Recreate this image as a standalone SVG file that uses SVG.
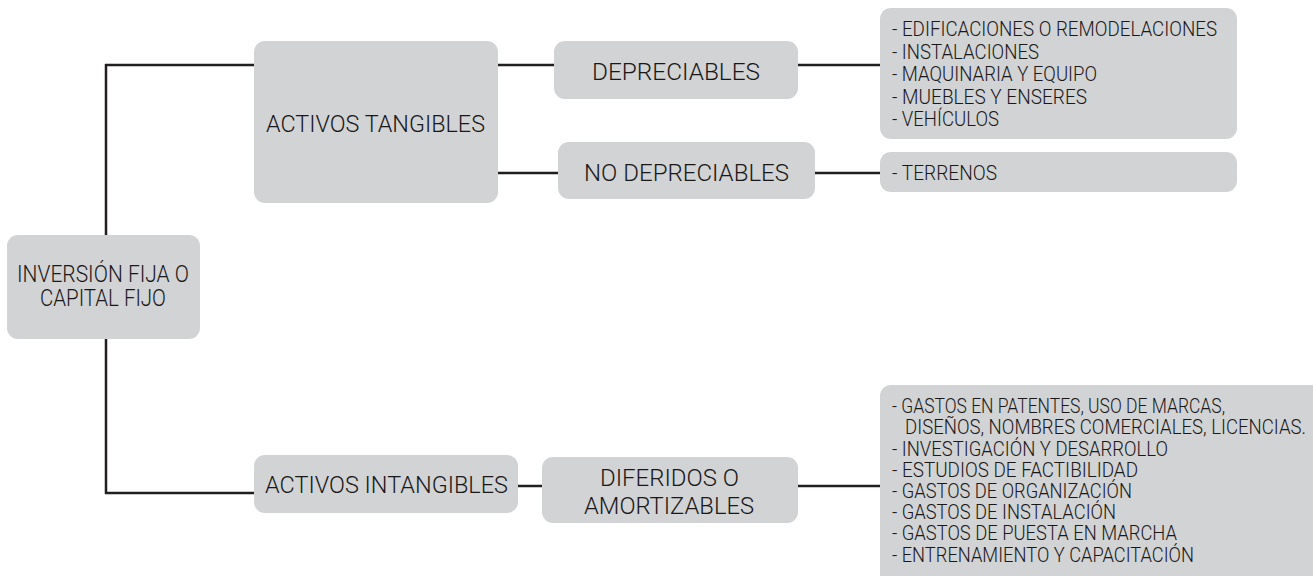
<svg xmlns="http://www.w3.org/2000/svg" width="1313" height="576" viewBox="0 0 1313 576">
  <style>
    .box { fill: #d1d3d4; }
    .link { stroke: #231f20; stroke-width: 2.5; fill: none; }
    .lbl { font-family: Roboto, "Liberation Sans", sans-serif; font-weight: 300; font-size: 23px; fill: #1a1718; text-anchor: middle; }
    .item { font-family: Roboto, "Liberation Sans", sans-serif; font-weight: 300; font-size: 19.5px; fill: #1a1718; }
  </style>
  <rect width="1313" height="576" fill="#ffffff"/>

  <!-- connectors -->
  <g id="connectors">
    <path class="link" d="M106 64 V494"/>
    <path class="link" d="M105 65 H256"/>
    <path class="link" d="M105 493 H256"/>
    <path class="link" d="M496 65 H556"/>
    <path class="link" d="M496 173 H560"/>
    <path class="link" d="M796 65 H882"/>
    <path class="link" d="M813 173 H882"/>
    <path class="link" d="M516 486 H544"/>
    <path class="link" d="M796 486 H882"/>
  </g>

  <!-- root -->
  <g id="inversion-fija">
    <rect class="box" x="7" y="235" width="193" height="104" rx="11"/>
    <text class="lbl" x="103" y="282" textLength="172" lengthAdjust="spacingAndGlyphs">INVERSIÓN FIJA O</text>
    <text class="lbl" x="103" y="306" textLength="126" lengthAdjust="spacingAndGlyphs">CAPITAL FIJO</text>
  </g>

  <!-- tangible assets branch -->
  <g id="activos-tangibles">
    <rect class="box" x="254" y="41" width="244" height="162" rx="11"/>
    <text class="lbl" x="375.5" y="132" textLength="219" lengthAdjust="spacingAndGlyphs">ACTIVOS TANGIBLES</text>
  </g>

  <g id="depreciables">
    <rect class="box" x="554" y="41" width="244" height="58" rx="11"/>
    <text class="lbl" x="676" y="80" textLength="168" lengthAdjust="spacingAndGlyphs">DEPRECIABLES</text>
  </g>

  <g id="no-depreciables">
    <rect class="box" x="558" y="142" width="257" height="57" rx="11"/>
    <text class="lbl" x="686.5" y="181" textLength="205" lengthAdjust="spacingAndGlyphs">NO DEPRECIABLES</text>
  </g>

  <g id="lista-depreciables">
    <rect class="box" x="880" y="8" width="357" height="131" rx="11"/>
    <text class="item" x="892" y="36" textLength="325" lengthAdjust="spacingAndGlyphs">- EDIFICACIONES O REMODELACIONES</text>
    <text class="item" x="892" y="59" textLength="147" lengthAdjust="spacingAndGlyphs">- INSTALACIONES</text>
    <text class="item" x="892" y="81" textLength="205" lengthAdjust="spacingAndGlyphs">- MAQUINARIA Y EQUIPO</text>
    <text class="item" x="892" y="104" textLength="195" lengthAdjust="spacingAndGlyphs">- MUEBLES Y ENSERES</text>
    <text class="item" x="892" y="126" textLength="107" lengthAdjust="spacingAndGlyphs">- VEHÍCULOS</text>
  </g>

  <g id="lista-no-depreciables">
    <rect class="box" x="880" y="152" width="357" height="40" rx="11"/>
    <text class="item" x="892" y="180" textLength="105" lengthAdjust="spacingAndGlyphs">- TERRENOS</text>
  </g>

  <!-- intangible assets branch -->
  <g id="activos-intangibles">
    <rect class="box" x="254" y="455" width="264" height="58" rx="11"/>
    <text class="lbl" x="386.5" y="493" textLength="243" lengthAdjust="spacingAndGlyphs">ACTIVOS INTANGIBLES</text>
  </g>

  <g id="diferidos">
    <rect class="box" x="542" y="457" width="256" height="66" rx="11"/>
    <text class="lbl" x="669.5" y="486" textLength="139" lengthAdjust="spacingAndGlyphs">DIFERIDOS O</text>
    <text class="lbl" x="669" y="514" textLength="170" lengthAdjust="spacingAndGlyphs">AMORTIZABLES</text>
  </g>

  <g id="lista-diferidos">
    <rect class="box" x="880" y="385" width="450" height="210" rx="11"/>
    <text class="item" x="892" y="413" textLength="333" lengthAdjust="spacingAndGlyphs">- GASTOS EN PATENTES, USO DE MARCAS,</text>
    <text class="item" x="905" y="434" textLength="401" lengthAdjust="spacingAndGlyphs">DISEÑOS, NOMBRES COMERCIALES, LICENCIAS.</text>
    <text class="item" x="892" y="455.5" textLength="276" lengthAdjust="spacingAndGlyphs">- INVESTIGACIÓN Y DESARROLLO</text>
    <text class="item" x="892" y="476.5" textLength="246" lengthAdjust="spacingAndGlyphs">- ESTUDIOS DE FACTIBILIDAD</text>
    <text class="item" x="892" y="498" textLength="240" lengthAdjust="spacingAndGlyphs">- GASTOS DE ORGANIZACIÓN</text>
    <text class="item" x="892" y="519" textLength="224" lengthAdjust="spacingAndGlyphs">- GASTOS DE INSTALACIÓN</text>
    <text class="item" x="892" y="540" textLength="285" lengthAdjust="spacingAndGlyphs">- GASTOS DE PUESTA EN MARCHA</text>
    <text class="item" x="892" y="561.5" textLength="302" lengthAdjust="spacingAndGlyphs">- ENTRENAMIENTO Y CAPACITACIÓN</text>
  </g>
</svg>
